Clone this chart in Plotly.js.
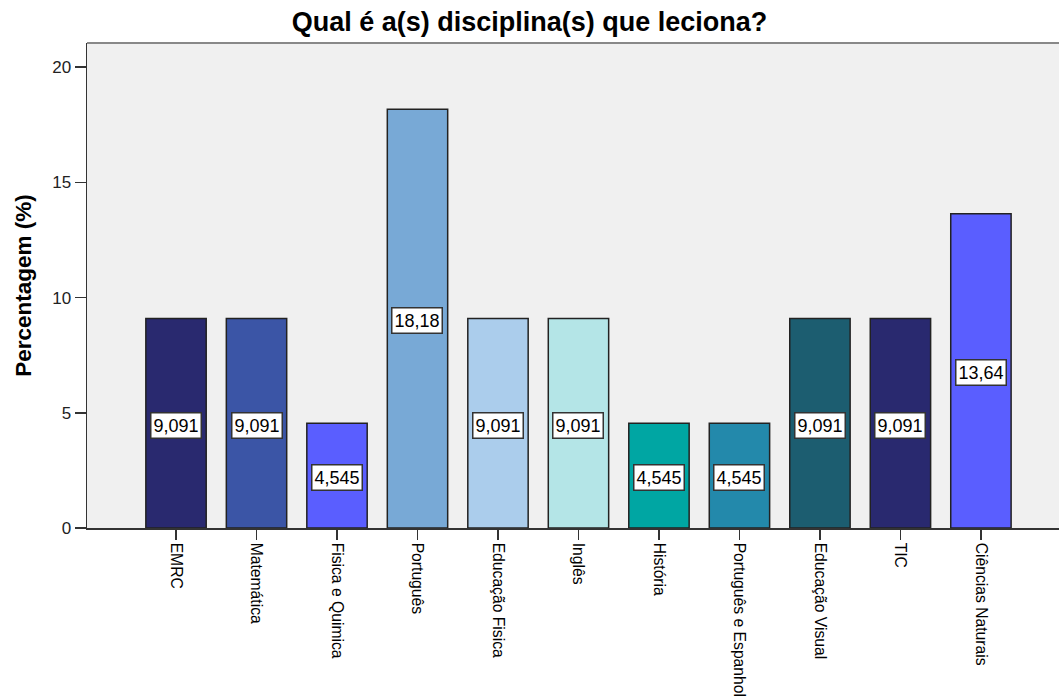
<!DOCTYPE html>
<html>
<head>
<meta charset="utf-8">
<script src="https://cdn.plot.ly/plotly-3.0.1.min.js"></script>
<style>html,body{margin:0;padding:0;background:#fff;}#chart{width:1059px;height:698px;}</style>
</head>
<body>
<div id="chart"></div>
<script>
var categories = ["EMRC", "Matemática", "Fisica e Quimica", "Português", "Educação Fisica", "Inglês", "História", "Português e Espanhol", "Educação Visual", "TIC", "Ciências Naturais"];
var percentages = [9.091, 9.091, 4.545, 18.18, 9.091, 9.091, 4.545, 4.545, 9.091, 9.091, 13.64];
var barColors = ["#29296f", "#3b55a6", "#5a5eff", "#78a9d6", "#abcdec", "#b4e5e7", "#00a6a3", "#2389ab", "#1c5d70", "#29296f", "#5a5eff"];
var yTicks = [0, 5, 10, 15, 20];

var labels = percentages.map(function (v) { return String(v).replace('.', ','); });
var FONT = 'Liberation Sans, Arial, sans-serif';

var trace = {
  type: 'bar',
  x: categories,
  y: percentages,
  width: 0.75,
  marker: { color: barColors, line: { color: '#222222', width: 1.5 } },
  hoverinfo: 'x+y'
};

var annotations = categories.map(function (c, i) {
  return {
    x: c, y: percentages[i] / 2, xref: 'x', yref: 'y',
    text: labels[i], showarrow: false,
    font: { family: FONT, size: 18, color: '#000' },
    bgcolor: '#ffffff', bordercolor: '#333333', borderwidth: 1.5, borderpad: 2,
    yshift: -2
  };
});

var layout = {
  width: 1059, height: 698,
  margin: { l: 87, r: 0, t: 43, b: 170 },
  paper_bgcolor: '#ffffff',
  plot_bgcolor: '#f0f0f0',
  title: {
    text: 'Qual é a(s) disciplina(s) que leciona?',
    font: { family: FONT, size: 27, color: '#000', weight: 'bold' },
    x: 0.5, xanchor: 'center', y: 1 - 22 / 698, yanchor: 'middle'
  },
  xaxis: {
    type: 'category',
    range: [-1.106, 10.97],
    tickangle: 90,
    ticks: 'outside', ticklen: 10, tickwidth: 1.5, tickcolor: '#333',
    showline: true, linecolor: '#333', linewidth: 1.5,
    showgrid: false, zeroline: false,
    tickfont: { family: FONT, size: 15.7, color: '#000' },
    automargin: false
  },
  yaxis: {
    range: [0, 21.05],
    tickvals: yTicks,
    ticktext: yTicks.map(String),
    ticks: 'outside', ticklen: 11, tickwidth: 1.5, tickcolor: '#333',
    showline: true, linecolor: '#333', linewidth: 1.5,
    showgrid: false, zeroline: false,
    tickfont: { family: FONT, size: 17, color: '#222' },
    title: { text: 'Percentagem (%)', font: { family: FONT, size: 22.5, color: '#000', weight: 'bold' }, standoff: 14 },
    automargin: false
  },
  shapes: [{
    type: 'line', xref: 'paper', yref: 'paper', x0: 0, x1: 1, y0: 1, y1: 1,
    line: { color: '#888888', width: 2 }
  }],
  annotations: annotations,
  showlegend: false
};

Plotly.newPlot('chart', [trace], layout, { displayModeBar: false, staticPlot: true });
</script>
</body>
</html>
